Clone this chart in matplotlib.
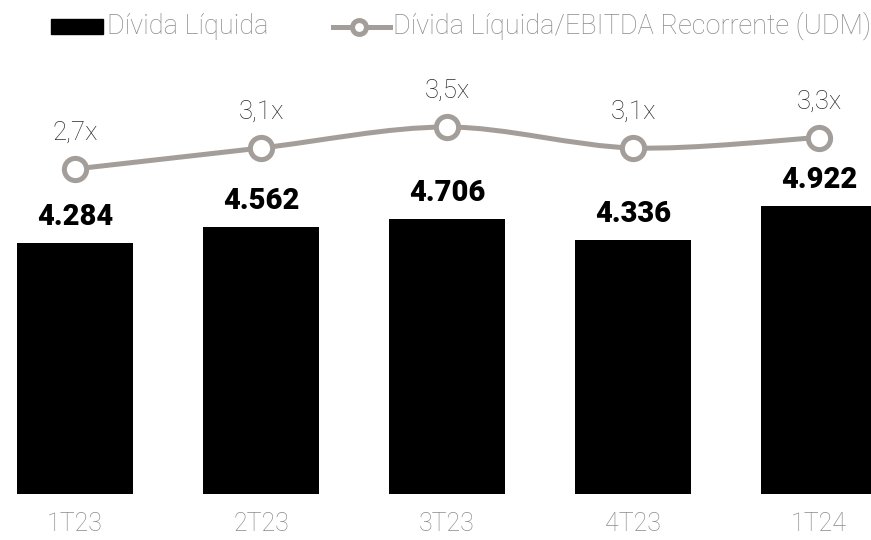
import matplotlib
matplotlib.use("Agg")
import matplotlib.pyplot as plt
from matplotlib.path import Path
from matplotlib.patches import PathPatch, Rectangle
from matplotlib.lines import Line2D

quarters = ["1T23", "2T23", "3T23", "4T23", "1T24"]
divida = [4284, 4562, 4706, 4336, 4922]
alavancagem = [2.7, 3.1, 3.5, 3.1, 3.3]
divida_labels = ["4.284", "4.562", "4.706", "4.336", "4.922"]
alav_labels = ["2,7x", "3,1x", "3,5x", "3,1x", "3,3x"]

plt.rcParams['font.family'] = ['Roboto', 'DejaVu Sans']
gray_line = "#a39e99"
gray_txt = "#8a8a8a"

fig = plt.figure(figsize=(8.71, 5.40), dpi=100)
ax = fig.add_axes([0, 46/540, 1, 434/540])
x = list(range(len(quarters)))
ax.bar(x, divida, width=0.624, color="black")
ax.set_xlim(-75/186, 4 + 52/186)
ax.set_ylim(0, 434/0.0585)
for s in ax.spines.values():
    s.set_visible(False)
ax.set_yticks([])
ax.set_xticks(x)
ax.set_xticklabels(quarters, fontsize=18, color=gray_txt, fontweight='light')
ax.tick_params(axis='x', length=0, pad=13)
for xi, v, lab in zip(x, divida, divida_labels):
    ax.annotate(lab, (xi, v), xytext=(0, 13), textcoords='offset points',
                ha='center', va='baseline', fontsize=21, fontweight='heavy', color='black')

ax2 = ax.twinx()
ax2.set_ylim(2.7 - 325/52.5, 2.7 + 109/52.5)
ax2.set_axis_off()

# smooth line through the points (Catmull-Rom -> bezier)
verts = [(x[0], alavancagem[0])]
codes = [Path.MOVETO]
n = len(x)
for i in range(n - 1):
    p0 = (x[max(i - 1, 0)], alavancagem[max(i - 1, 0)])
    p1 = (x[i], alavancagem[i])
    p2 = (x[i + 1], alavancagem[i + 1])
    p3 = (x[min(i + 2, n - 1)], alavancagem[min(i + 2, n - 1)])
    t = 0.16
    c1 = (p1[0] + (p2[0] - p0[0]) * t, p1[1] + (p2[1] - p0[1]) * t)
    c2 = (p2[0] - (p3[0] - p1[0]) * t, p2[1] - (p3[1] - p1[1]) * t)
    verts += [c1, c2, p2]
    codes += [Path.CURVE4] * 3
ax2.add_patch(PathPatch(Path(verts, codes), facecolor='none', edgecolor=gray_line, lw=3.6))
ax2.plot(x, alavancagem, linestyle='none', marker='o', markersize=16,
         markerfacecolor='white', markeredgecolor=gray_line, markeredgewidth=3.6)
for xi, v, lab in zip(x, alavancagem, alav_labels):
    ax2.annotate(lab, (xi, v), xytext=(0, 21), textcoords='offset points',
                 ha='center', va='baseline', fontsize=18.5, fontweight='light', color='#2a2a2a')

# legend
fig.patches.append(Rectangle((51/871, 1 - 34/540), 52/871, 15/540,
                             transform=fig.transFigure, color='black'))
fig.text(107/871, 1 - 34/540, "Dívida Líquida", fontsize=19.5, fontweight='light',
         color=gray_txt, va='baseline', ha='left')
fig.lines.append(Line2D([333/871, 390/871], [1 - 27/540, 1 - 27/540], transform=fig.transFigure,
                        color=gray_line, lw=3.6, marker=None))
fig.lines.append(Line2D([359/871], [1 - 27/540], transform=fig.transFigure, marker='o',
                        markersize=10, markerfacecolor='white', markeredgecolor=gray_line,
                        markeredgewidth=3.6, linestyle='none'))
fig.text(393/871, 1 - 34/540, "Dívida Líquida/EBITDA Recorrente (UDM)", fontsize=19.5,
         fontweight='light', color=gray_txt, va='baseline', ha='left')

fig.savefig("out.png", dpi=100)
